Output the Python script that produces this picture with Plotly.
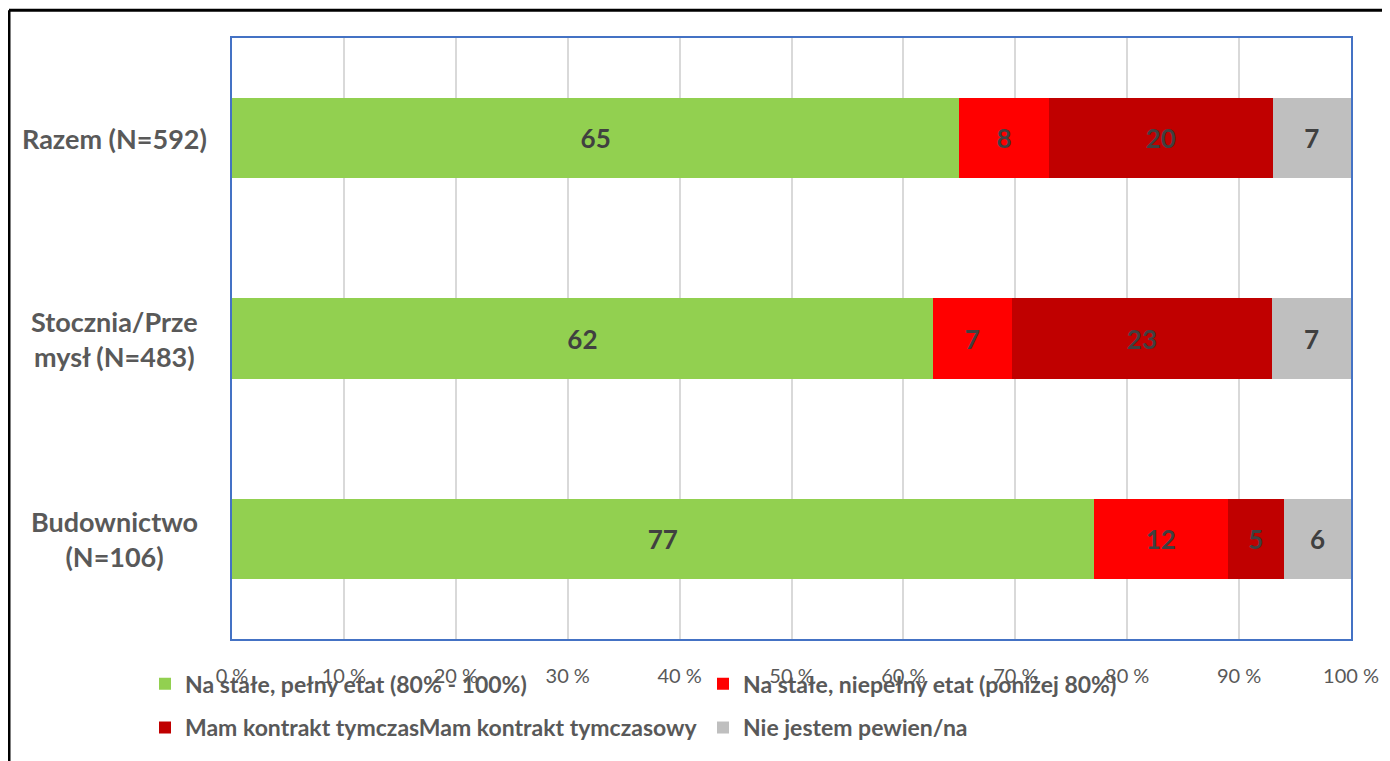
import plotly.graph_objects as go

categories = ["Razem (N=592)", "Stocznia/Prze<br>mysł (N=483)", "Budownictwo<br>(N=106)"]
series_names = [
    "Na stałe, pełny etat (80% - 100%)",
    "Na stałe, niepełny etat (poniżej 80%)",
    "Mam kontrakt tymczasMam kontrakt tymczasowy",
    "Nie jestem pewien/na",
]
full_time = [65, 62, 77]
part_time = [8, 7, 12]
temporary = [20, 23, 5]
unsure = [7, 7, 6]
series_values = [full_time, part_time, temporary, unsure]
colors = ["#92D050", "#FF0000", "#C00000", "#BFBFBF"]
tick_vals = [0, 10, 20, 30, 40, 50, 60, 70, 80, 90, 100]
tick_text = [f"{v} %" for v in tick_vals]

OFF = 8  # page body margin
W, H = 1390 - OFF, 761 - OFF
# plot area in screen pixels: x 232..1351, y 38..642
L, T = 232 - OFF, 38 - OFF
R = W - (1351 - OFF)
B = H - (642 - OFF)
pw, ph = W - L - R, H - T - B

def px_x(p):
    return (p - OFF - L) / pw

def px_y(p):
    return (H - B - (p - OFF)) / ph

FONT = "Lato"
GRAY = "#595959"

fig = go.Figure()
legends = ["legend", "legend", "legend2", "legend2"]
for name, vals, col, lg in zip(series_names, series_values, colors, legends):
    fig.add_trace(go.Bar(
        y=categories, x=vals, name=name, orientation="h",
        marker=dict(color=col, line=dict(width=0)),
        text=[str(v) for v in vals], textposition="inside",
        insidetextanchor="middle", textangle=0, constraintext="none",
        textfont=dict(family=FONT, size=26, color="#404040", weight="bold"),
        legend=lg, hoverinfo="skip",
    ))

annotations = []
for c in categories:
    annotations.append(dict(
        x=px_x(114), xref="paper", y=c, yref="y", text=c, showarrow=False,
        align="center", xanchor="center", yanchor="middle",
        font=dict(family=FONT, size=27, color=GRAY, weight="bold"),
    ))

shapes = [
    dict(type="line", xref="paper", yref="paper", x0=px_x(9), x1=px_x(9),
         y0=px_y(10), y1=px_y(800), line=dict(color="black", width=3)),
    dict(type="line", xref="paper", yref="paper", x0=px_x(9), x1=px_x(1450),
         y0=px_y(10), y1=px_y(10), line=dict(color="black", width=3)),
]

legend_common = dict(
    orientation="h", xanchor="left", yanchor="middle",
    entrywidth=513, entrywidthmode="pixels",
    font=dict(family=FONT, size=23, color=GRAY, weight="bold"),
    bgcolor="rgba(0,0,0,0)", traceorder="normal",
)

fig.update_layout(
    width=W, height=H,
    margin=dict(l=L, r=R, t=T, b=B),
    barmode="stack", barnorm="percent", bargap=0.6,
    plot_bgcolor="white", paper_bgcolor="white",
    font=dict(family=FONT, color=GRAY),
    xaxis=dict(
        range=[0, 100], tickmode="array", tickvals=tick_vals, ticktext=tick_text,
        showgrid=True, gridcolor="#D9D9D9", gridwidth=2,
        showline=True, linecolor="#4472C4", linewidth=2, mirror=True,
        ticks="", ticklabelstandoff=18, zeroline=False,
        tickfont=dict(family=FONT, size=20, color=GRAY),
        fixedrange=True,
    ),
    yaxis=dict(
        autorange="reversed", showticklabels=False, showgrid=False,
        showline=True, linecolor="#4472C4", linewidth=2, mirror=True,
        ticks="", fixedrange=True,
    ),
    legend=dict(x=px_x(145), y=px_y(687), **legend_common),
    legend2=dict(x=px_x(145), y=px_y(731), **legend_common),
    annotations=annotations,
    shapes=shapes,
    showlegend=True,
)

fig.write_html("out.html")
